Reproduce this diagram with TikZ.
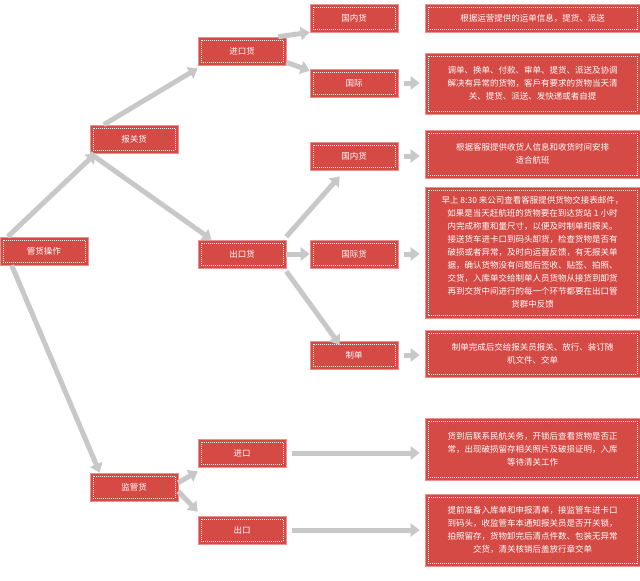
\documentclass[tikz,border=0pt]{standalone}
\usepackage{fontspec}
\setmainfont{Noto Sans CJK SC}
\usetikzlibrary{arrows.meta}
\definecolor{boxred}{HTML}{D64A45}
\definecolor{arr}{HTML}{C8C8C8}
\tikzset{
 box/.style={fill=boxred, draw=boxred!60!white, line width=0.6pt, text=white, font=\fontsize{8.5}{13}\selectfont, align=center, inner sep=0pt,
  path picture={\draw[white,dashed,line width=0.4pt,dash pattern=on 1pt off 1pt] ([shift={(3pt,-3pt)}]path picture bounding box.north west) rectangle ([shift={(-3pt,3pt)}]path picture bounding box.south east);}},
 sbox/.style={box, minimum width=88pt, minimum height=28pt},
 rbox/.style={box, minimum width=215pt},
 ar/.style={draw=arr, line width=5pt, -{Triangle[width=13pt,length=9pt]}}
}
\begin{document}
\begin{tikzpicture}[x=1pt,y=-1pt]
\useasboundingbox (0,0) rectangle (640,581);
\node[sbox] (root) at (44,251) {管货操作};
\node[sbox] (bg) at (134,139) {报关货};
\node[sbox] (jk) at (242,51) {进口货};
\node[sbox] (ck) at (242,254) {出口货};
\node[sbox] (jg) at (134,487) {监管货};
\node[sbox] (jk2) at (242,453) {进口};
\node[sbox] (ck2) at (242,530) {出口};
\node[sbox] (gn1) at (354,18) {国内货};
\node[sbox] (gj1) at (354,83) {国际};
\node[sbox] (gn2) at (354,156) {国内货};
\node[sbox] (gj2) at (354,254) {国际货};
\node[sbox] (zd) at (354,355) {制单};
\node[rbox, minimum height=28pt] (r1) at (532.5,18) {根据运营提供的运单信息，提货、派送};
\node[rbox, minimum height=61pt] (r2) at (532.5,83.5) {调单、换单、付款、审单、提货、派送及协调\\解决有异常的货物，客戶有要求的货物当天清\\关、提货、派送、发快递或者自提};
\node[rbox, minimum height=48pt] (r3) at (532.5,154) {根据客服提供收货人信息和收货时间安排\\适合航班};
\node[rbox, minimum height=131pt] (r4) at (532.5,252.5) {早上 8:30 来公司查看客服提供货物交接表邮件，\\如果是当天赶航班的货物要在到达货站 1 小时\\内完成称重和量尺寸，以便及时制单和报关。\\接送货车进卡口到码头卸货，检查货物是否有\\破损或者异常，及时向运营反馈，有无报关单\\据，确认货物没有问题后签收、贴签、拍照、\\交货，入库单交给制单人员货物从接货到卸货\\再到交货中间进行的每一个环节都要在出口管\\货群中反馈};
\node[rbox, minimum height=47pt] (r5) at (532.5,353.5) {制单完成后交给报关员报关、放行、装订随\\机文件、交单};
\node[rbox, minimum height=62pt] (r6) at (532.5,449) {货到后联系民航关务，开锁后查看货物是否正\\常，出现破损留存相关照片及破损证明，入库\\等待清关工作};
\node[rbox, minimum height=72pt] (r7) at (532.5,530) {提前准备入库单和申报清单，接监管车进卡口\\到码头，收监管车本通知报关员是否开关锁，\\拍照留存，货物卸完后清点件数、包装无异常\\交货，清关核销后盖放行章交单};
% connectors
\draw[ar] ([xshift=8pt]root.north west) -- ([xshift=6pt]bg.south west);
\draw[ar] ([xshift=12pt]root.south west) -- ([xshift=10pt]jg.north west);
\draw[ar] ([xshift=14pt]bg.north west) -- ([yshift=-3pt]jk.south west);
\draw[ar] ([xshift=-44pt]bg.south) -- ([xshift=14pt]ck.north west) ;
\draw[ar] ([xshift=-8pt]jk.north east) -- (gn1.south west);
\draw[ar] ([yshift=3pt]jk.south east) -- ([yshift=-2pt]gj1.north west);
\draw[ar] ([yshift=3pt]ck.north east) -- ([xshift=30pt,yshift=-6pt]gn2.south west);
\draw[ar] (ck.east) -- (gj2.west);
\draw[ar] ([yshift=-3pt]ck.south east) -- ([xshift=30pt,yshift=-4pt]zd.north west);
\draw[ar] ([yshift=-10pt]jg.north east) -- ([yshift=-4pt]jk2.south west);
\draw[ar] ([yshift=10pt]jg.south east) -- ([yshift=4pt]ck2.north west);
\draw[ar] ([xshift=6pt]gj1.east) -- ([xshift=-5pt]gj1.east -| r2.west);
\draw[ar] ([xshift=6pt]gn2.east) -- ([xshift=-5pt]gn2.east -| r3.west);
\draw[ar] ([xshift=6pt]gj2.east) -- ([xshift=-5pt]gj2.east -| r4.west);
\draw[ar] ([xshift=6pt]zd.east) -- ([xshift=-5pt]zd.east -| r5.west);
\draw[ar] ([xshift=6pt]jk2.east) -- ([xshift=-5pt]jk2.east -| r6.west);
\draw[ar] ([xshift=6pt]ck2.east) -- ([xshift=-5pt]ck2.east -| r7.west);
\end{tikzpicture}
\end{document}
